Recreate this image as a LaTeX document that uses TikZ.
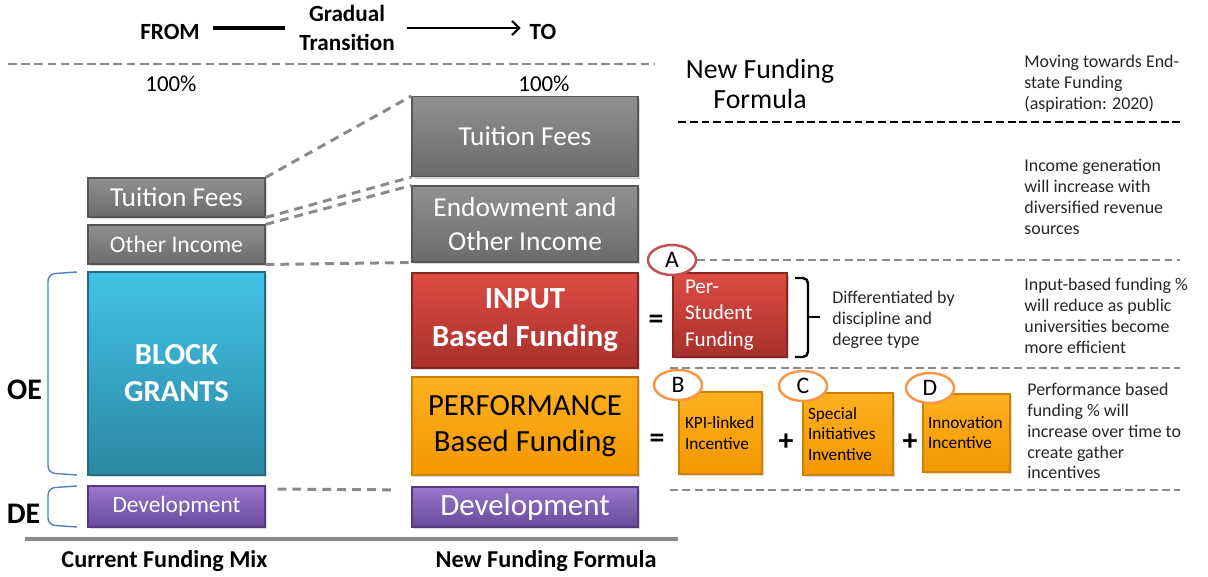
\documentclass[tikz,border=0pt]{standalone}
\usepackage{fontspec}
\setmainfont{Carlito}
\usetikzlibrary{positioning,shapes.geometric,shadows,arrows.meta}

\definecolor{greyT}{HTML}{909090}
\definecolor{greyB}{HTML}{6B6B6B}
\definecolor{blueT}{HTML}{42C2E6}
\definecolor{blueB}{HTML}{2B88A3}
\definecolor{redT}{HTML}{DE4B45}
\definecolor{redB}{HTML}{A8302B}
\definecolor{orT}{HTML}{FFB020}
\definecolor{orB}{HTML}{F29800}
\definecolor{purT}{HTML}{9A77CC}
\definecolor{purB}{HTML}{684A9B}
\definecolor{circRed}{HTML}{C0504D}
\definecolor{circOr}{HTML}{F79646}
\definecolor{braceBlue}{HTML}{4F81BD}
\definecolor{dashGrey}{HTML}{8A8A8A}
\definecolor{txt}{HTML}{262626}

\newcommand\fsz[2]{\fontsize{#1}{#2}\selectfont}

\tikzset{
  bar/.style={rectangle, inner sep=0pt, line width=0.6pt,
    drop shadow={shadow xshift=1.2pt, shadow yshift=-1.2pt, opacity=0.3}},
  greybar/.style={bar, draw=greyB!80!black, top color=greyT, bottom color=greyB, text=white},
  bluebar/.style={bar, draw=blueB!80!black, top color=blueT, bottom color=blueB, text=white},
  redbar/.style={bar, draw=redB!80!black, top color=redT, bottom color=redB, text=white},
  orbar/.style={bar, draw=orB!85!black, top color=orT, bottom color=orB, text=black},
  purbar/.style={bar, draw=purB!80!black, top color=purT, bottom color=purB, text=white},
  tag/.style={ellipse, draw=#1, line width=1.4pt, fill=white, inner sep=0pt,
    minimum width=0.96cm, minimum height=0.6cm, font=\fsz{13.5}{16}},
  note/.style={align=left, inner sep=0pt, text=txt, font=\fsz{10.2}{11.9}},
  link/.style={draw=dashGrey, line width=1.7pt, dash pattern=on 5pt off 3.5pt},
  sep/.style={draw=dashGrey, line width=1.4pt, dash pattern=on 4.5pt off 2.5pt},
  op/.style={font=\bfseries\fsz{17}{20}, inner sep=0pt}
}

\begin{document}
\begin{tikzpicture}[x=0.02cm, y=-0.02cm]
  \useasboundingbox (0,0) rectangle (1208,577);

  % header
  \node[font=\bfseries\fsz{13.2}{16}] (from) at (170,32) {FROM};
  \node[font=\bfseries\fsz{13.2}{16}, align=center] (grad) at (347,28) {Gradual\\Transition};
  \node[font=\bfseries\fsz{13.2}{16}] (to) at (543,32) {TO};
  \draw[line width=2.8pt, shorten <=0.14cm, shorten >=0.16cm] (from.east |- grad.west) -- (grad.west);
  \draw[-{Straight Barb[length=4pt,width=8pt]}, line width=1.2pt, shorten <=0.12cm, shorten >=0.06cm]
    (grad.east) -- (to.west |- grad.east);
  \draw[line width=1.7pt, draw=dashGrey, dash pattern=on 5pt off 2.5pt] (8,64) -- (655,64);
  \node[font=\fsz{13}{16}] (pctold) at (171,84) {100\%};
  \node[font=\fsz{13}{16}] (pctnew) at (544,84) {100\%};

  % current mix
  \node[greybar, minimum width=3.54cm, minimum height=0.78cm, font=\fsz{15.6}{18}] (oldfees) at (176.5,197.5) {Tuition Fees};
  \node[greybar, minimum width=3.54cm, minimum height=0.78cm, font=\fsz{13.5}{16}] (oldinc) at (176.5,244.5) {Other Income};
  \node[bluebar, minimum width=3.54cm, minimum height=4.06cm, font=\bfseries\fsz{17.4}{21}, align=center] (block) at (176.5,373.5) {BLOCK\\GRANTS};
  \node[purbar, minimum width=3.54cm, minimum height=0.82cm, font=\fsz{13.3}{16}] (olddev) at (176.5,506.5) {Development};

  \draw[braceBlue, line width=0.8pt, rounded corners=4pt] (77,272) -- (48,274) -- (48,473) -- (77,475);
  \draw[braceBlue, line width=0.8pt, rounded corners=4pt] (77,486) -- (48,488) -- (48,525) -- (77,527);
  \node[font=\bfseries\fsz{17}{20}] (oe) at (24.5,390) {OE};
  \node[font=\bfseries\fsz{17}{20}] (de) at (23.5,514) {DE};

  % new formula
  \node[greybar, minimum width=4.52cm, minimum height=1.6cm, font=\fsz{15.6}{18}] (newfees) at (525,136.5) {Tuition Fees};
  \node[greybar, minimum width=4.52cm, minimum height=1.52cm, font=\fsz{15.6}{19.8}, align=center] (endow) at (525,224) {Endowment and\\Other Income};
  \node[redbar, minimum width=4.52cm, minimum height=1.9cm, font=\bfseries\fsz{17.5}{21.5}, align=center] (input) at (525,320.5) {INPUT\\Based Funding};
  \node[orbar, minimum width=4.52cm, minimum height=1.96cm, font=\fsz{17.5}{20.4}, align=center] (perf) at (525,426) {PERFORMANCE\\Based Funding};
  \node[purbar, minimum width=4.52cm, minimum height=0.8cm, font=\fsz{17.6}{20}] (newdev) at (525,507) {Development};

  \draw[link] (oldfees.north east) -- (newfees.north west);
  \draw[link] (oldfees.south east) -- (newfees.south west);
  \draw[link] (oldinc.north east) -- (endow.north west);
  \draw[link] (oldinc.south east) -- (endow.south west);
  \draw[link, shorten <=0.24cm, shorten >=0.32cm] ([yshift=-2pt]olddev.north east) -- ([yshift=-2pt]newdev.north west);

  \draw[line width=2.3pt, draw=dashGrey] (25,539) -- (678,539);
  \node[font=\bfseries\fsz{13.8}{16}] (curmix) at (164.5,561) {Current Funding Mix};
  \node[font=\bfseries\fsz{13.8}{16}] (newmix) at (546,561) {New Funding Formula};

  % right side
  \node[font=\fsz{15.8}{17.6}, align=center] (nff) at (760,84) {New Funding\\Formula};
  \draw[line width=1.4pt, dash pattern=on 4.5pt off 2.2pt] (678,122) -- (1180,122);

  \node[op] (eqin) at (656,322) {=};
  \node[redbar, minimum height=1.68cm, text width=1.8cm, inner xsep=0.24cm, align=left, font=\fsz{12}{15.3}] (perstud) at (730,315) {Per-\\Student\\Funding};
  \node[tag=circRed] (tagA) at (672,260) {A};
  \draw[sep] (tagA.east) -- (1180,260);
  \draw[line width=1.4pt, rounded corners=3pt] (795,278) -- (808,278) -- (808,357) -- (795,357);
  \draw[line width=1.4pt] (808,317) -- (820,317);
  \node[note, anchor=west] (diffnote) at (832,320) {Differentiated by\\discipline and\\degree type};

  \draw[sep] (670,368) -- (1180,368);
  \node[op] (eqperf) at (657,441) {=};
  \node[orbar, minimum height=1.64cm, text width=1.42cm, inner xsep=0.12cm, align=left, font=\fsz{9.8}{11.5}] (kpi) at (720.5,433) {KPI-linked\\Incentive};
  \node[op] (plusa) at (786,442) {+};
  \node[orbar, minimum height=1.64cm, text width=1.6cm, inner xsep=0.1cm, align=left, font=\fsz{9.8}{11.5}] (special) at (848,434) {Special\\Initiatives\\Inventive};
  \node[op] (plusb) at (910,442) {+};
  \node[orbar, minimum height=1.56cm, text width=1.54cm, inner xsep=0.1cm, align=left, font=\fsz{9.8}{11.5}] (innov) at (966.5,433) {Innovation\\Incentive};
  \node[tag=circOr] (tagB) at (678,385) {B};
  \node[tag=circOr] (tagC) at (803,386) {C};
  \node[tag=circOr] (tagD) at (930,388) {D};
  \draw[sep] (670,490) -- (1180,490);

  % notes
  \node[note, anchor=west] (movenote) at (1024,84) {Moving towards End-\\state Funding\\(aspiration: 2020)};
  \node[note, anchor=west] (incnote) at (1024,197) {Income generation\\will increase with\\diversified revenue\\sources};
  \node[note, anchor=west] (innote) at (1024,316) {Input-based funding \%\\will reduce as public\\universities become\\more efficient};
  \node[note, anchor=west] (perfnote) at (1027,431) {Performance based\\funding \% will\\increase over time to\\create gather\\incentives};
\end{tikzpicture}
\end{document}
